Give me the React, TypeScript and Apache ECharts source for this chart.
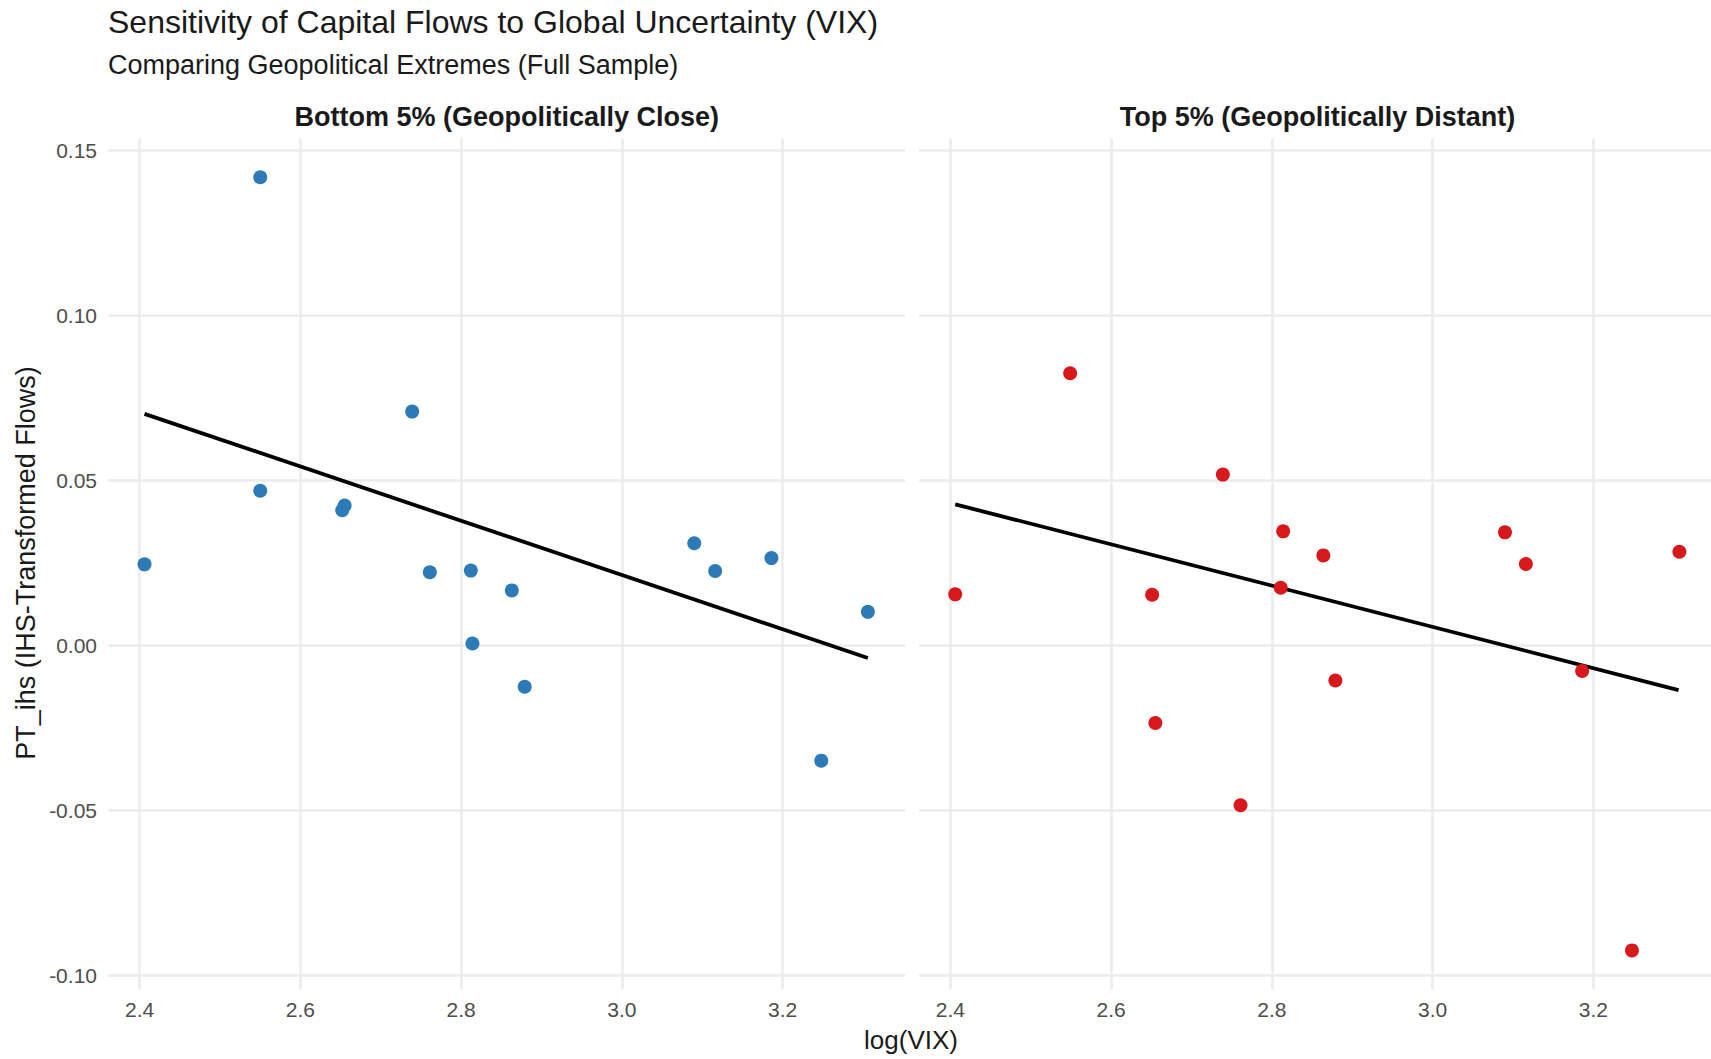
import React, { useEffect, useRef } from "react";
import * as echarts from "echarts";

// ---- Data ----
const vixClose = [2.406, 2.550, 2.550, 2.652, 2.655, 2.739, 2.761, 2.812, 2.814, 2.863, 2.879, 3.090, 3.116, 3.186, 3.248, 3.306];
const flowsClose = [0.0246, 0.1419, 0.0469, 0.0410, 0.0424, 0.0709, 0.0222, 0.0227, 0.0006, 0.0167, -0.0125, 0.0310, 0.0226, 0.0265, -0.0349, 0.0102];

const vixDistant = [2.406, 2.549, 2.651, 2.655, 2.739, 2.761, 2.814, 2.811, 2.864, 2.879, 3.090, 3.116, 3.186, 3.248, 3.307];
const flowsDistant = [0.0155, 0.0825, 0.0154, -0.0235, 0.0518, -0.0484, 0.0346, 0.0175, 0.0273, -0.0106, 0.0343, 0.0247, -0.0077, -0.0924, 0.0284];

// fitted regression line end points
const fitXClose = [2.406, 3.306];
const fitYClose = [0.0702, -0.0038];
const fitXDistant = [2.406, 3.306];
const fitYDistant = [0.0428, -0.0135];

const xTicks = [2.4, 2.6, 2.8, 3.0, 3.2];
const yTicks = [-0.1, -0.05, 0, 0.05, 0.1, 0.15];

const panelTitles = ["Bottom 5% (Geopolitically Close)", "Top 5% (Geopolitically Distant)"];
const chartTitle = "Sensitivity of Capital Flows to Global Uncertainty (VIX)";
const chartSubtitle = "Comparing Geopolitical Extremes (Full Sample)";
const xTitle = "log(VIX)";
const yTitle = "PT_ihs (IHS-Transformed Flows)";

const X_MIN = 2.3612;
const X_MAX = 3.3522;
const Y_MIN = -0.1041;
const Y_MAX = 0.1536;

const FONT = "Liberation Sans, Arial, sans-serif";
const BLUE = "#2C7BB6";
const RED = "#D7191C";

function zip(a: number[], b: number[]) {
  return a.map((v, i) => [v, b[i]]);
}

export default function App() {
  const ref = useRef<HTMLDivElement>(null);

  useEffect(() => {
    if (!ref.current) return;
    const chart = echarts.init(ref.current, null, { renderer: "svg" });

    const gridTop = 138.7;
    const gridHeight = 850.3;
    const gridWidth = 796.5;
    const lefts = [108.5, 919.2];

    const mkX = (i: number) => ({
      type: "value",
      gridIndex: i,
      min: X_MIN,
      max: X_MAX,
      axisLine: { show: false },
      axisTick: { show: false, customValues: xTicks },
      axisLabel: {
        customValues: xTicks,
        formatter: (v: number) => v.toFixed(1),
        color: "#4d4d4d",
        fontSize: 21,
        fontFamily: FONT,
        margin: 10,
      },
      splitLine: { show: true, lineStyle: { color: "#ebebeb", width: 2.5 } },
    });

    const mkY = (i: number) => ({
      type: "value",
      gridIndex: i,
      min: Y_MIN,
      max: Y_MAX,
      axisLine: { show: false },
      axisTick: { show: false, customValues: yTicks },
      axisLabel: {
        show: i === 0,
        customValues: yTicks,
        formatter: (v: number) => v.toFixed(2),
        color: "#4d4d4d",
        fontSize: 21,
        fontFamily: FONT,
        margin: 11.5,
      },
      splitLine: { show: true, lineStyle: { color: "#ebebeb", width: 2.5 } },
    });

    const option: any = {
      animation: false,
      backgroundColor: "#ffffff",
      grid: lefts.map((l) => ({
        left: l,
        top: gridTop,
        width: gridWidth,
        height: gridHeight,
        containLabel: false,
        outerBoundsMode: "none",
      })),
      xAxis: [mkX(0), mkX(1)],
      yAxis: [mkY(0), mkY(1)],
      series: [
        {
          type: "line",
          xAxisIndex: 0,
          yAxisIndex: 0,
          data: zip(fitXClose, fitYClose),
          showSymbol: false,
          symbol: "none",
          lineStyle: { color: "#000000", width: 3.8 },
          z: 2,
        },
        {
          type: "scatter",
          xAxisIndex: 0,
          yAxisIndex: 0,
          data: zip(vixClose, flowsClose),
          symbolSize: 14,
          itemStyle: { color: BLUE, opacity: 1 },
          z: 3,
        },
        {
          type: "line",
          xAxisIndex: 1,
          yAxisIndex: 1,
          data: zip(fitXDistant, fitYDistant),
          showSymbol: false,
          symbol: "none",
          lineStyle: { color: "#000000", width: 3.8 },
          z: 2,
        },
        {
          type: "scatter",
          xAxisIndex: 1,
          yAxisIndex: 1,
          data: zip(vixDistant, flowsDistant),
          symbolSize: 14,
          itemStyle: { color: RED, opacity: 1 },
          z: 3,
        },
      ],
      graphic: [
        {
          type: "text",
          x: 108,
          y: 22,
          style: {
            text: chartTitle,
            fontSize: 32,
            fontFamily: FONT,
            fill: "#1a1a1a",
            align: "left",
            verticalAlign: "middle",
          },
        },
        {
          type: "text",
          x: 108,
          y: 65,
          style: {
            text: chartSubtitle,
            fontSize: 27,
            fontFamily: FONT,
            fill: "#1a1a1a",
            align: "left",
            verticalAlign: "middle",
          },
        },
        ...panelTitles.map((t, i) => ({
          type: "text",
          x: lefts[i] + gridWidth / 2,
          y: 117,
          style: {
            text: t,
            fontSize: 27,
            fontWeight: "bold",
            fontFamily: FONT,
            fill: "#1a1a1a",
            align: "center",
            verticalAlign: "middle",
          },
        })),
        {
          type: "text",
          x: 911,
          y: 1040,
          style: {
            text: xTitle,
            fontSize: 26,
            fontFamily: FONT,
            fill: "#1a1a1a",
            align: "center",
            verticalAlign: "middle",
          },
        },
        {
          type: "text",
          x: 26,
          y: 563,
          rotation: Math.PI / 2,
          style: {
            text: yTitle,
            fontSize: 27,
            fontFamily: FONT,
            fill: "#1a1a1a",
            align: "center",
            verticalAlign: "middle",
          },
        },
      ],
    };

    chart.setOption(option);
    return () => chart.dispose();
  }, []);

  return (
    <div
      ref={ref}
      style={{ position: "absolute", left: 0, top: 0, width: 1711, height: 1059 }}
    />
  );
}
